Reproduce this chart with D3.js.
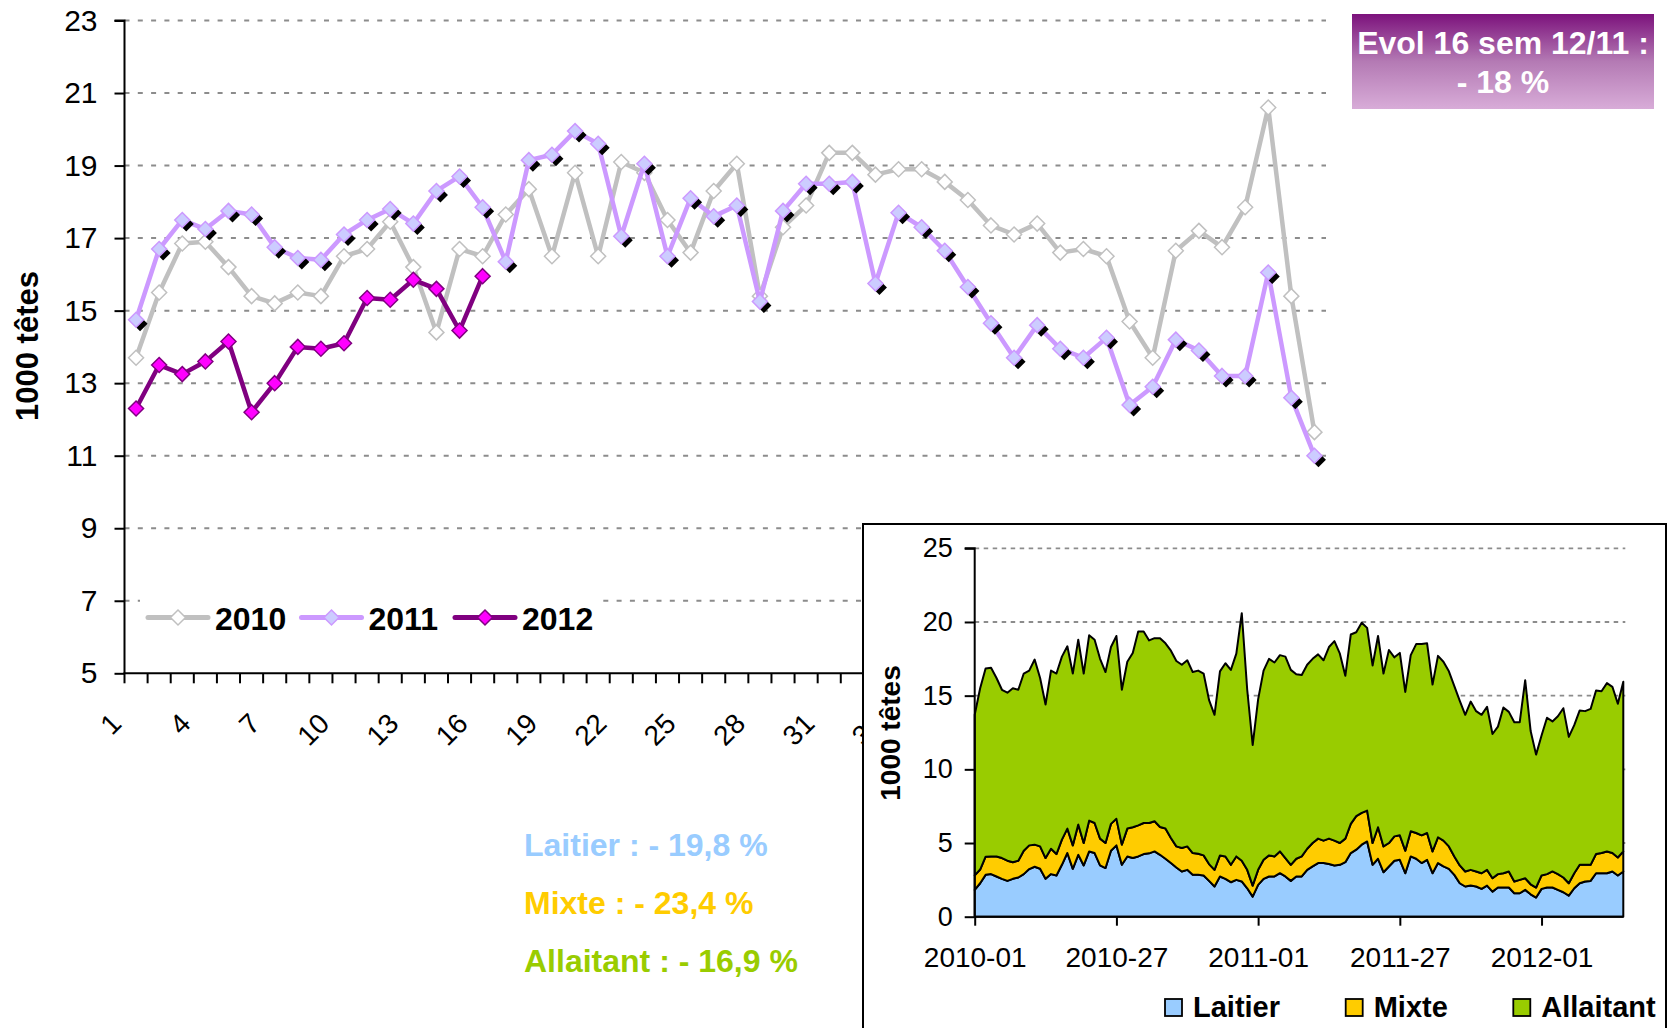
<!DOCTYPE html>
<html><head><meta charset="utf-8">
<script src="https://cdn.jsdelivr.net/npm/d3@7"></script>
<style>
body{margin:0;background:#fff}
svg{display:block}
text{font-family:"Liberation Sans",Arial,Helvetica,sans-serif}
</style>
</head><body>
<svg id="c" width="1668" height="1028"></svg>
<script>
// ---------------- DATA ----------------
const weeks = d3.range(1, 53);
const yearLabels = ["2010", "2011", "2012"];
const values2010 = [13.7,15.5,16.85,16.9,16.2,15.4,15.2,15.5,15.4,16.5,16.7,17.45,16.2,14.4,16.7,16.5,17.65,18.35,16.5,18.8,16.5,19.1,18.8,17.5,16.6,18.3,19.05,15.4,17.3,17.9,19.35,19.35,18.75,18.9,18.9,18.55,18.05,17.35,17.1,17.4,16.6,16.7,16.5,14.7,13.7,16.65,17.2,16.75,17.85,20.6,15.4,11.65];
const values2011 = [14.75,16.7,17.5,17.25,17.75,17.65,16.75,16.45,16.4,17.1,17.5,17.8,17.4,18.3,18.7,17.85,16.35,19.15,19.3,19.95,19.6,17.05,19.05,16.5,18.1,17.6,17.9,15.25,17.75,18.5,18.5,18.55,15.75,17.7,17.3,16.65,15.65,14.65,13.7,14.6,13.95,13.7,14.25,12.4,12.9,14.2,13.9,13.2,13.2,16.05,12.6,11.0];
const values2012 = [12.3,13.5,13.25,13.6,14.15,12.2,13.0,14.0,13.95,14.1,15.35,15.3,15.85,15.6,14.45,15.95];
const mainYTicks = [5,7,9,11,13,15,17,19,21,23];
const mainXTickLabels = [1,4,7,10,13,16,19,22,25,28,31,34,37,40,43,46,49,52];
const mainYTitle = "1000 têtes";

const insetYears = [2010, 2011, 2012];
const insetWeeksPerYear = [52, 52, 16];
const insetLaitier = [
1.82,2.27,2.84,2.89,2.73,2.57,2.43,2.57,2.66,2.89,3.23,3.39,3.25,2.57,2.89,2.8,3.52,4.32,3.25,4.2,3.48,4.43,4.32,3.48,3.3,4.48,4.84,3.52,4.09,3.98,4.09,4.25,4.3,4.43,4.2,3.93,3.64,3.34,3.07,3.18,2.84,2.84,2.8,2.43,2.05,2.73,2.57,2.34,2.5,2.39,1.93,1.36,
2.16,2.57,2.73,2.73,2.95,2.73,2.43,2.73,2.73,3.18,3.41,3.64,3.64,3.57,3.48,3.52,3.7,4.32,4.55,4.89,5.11,3.52,3.93,3.02,3.41,3.8,3.86,2.95,4.09,3.93,3.64,3.86,2.95,3.64,3.41,3.25,2.84,2.27,2.05,2.11,2.05,1.89,2.11,1.7,1.98,1.98,1.98,1.59,1.59,1.82,1.52,1.3,
1.89,1.98,1.98,1.82,1.66,1.43,1.93,2.27,2.39,2.43,2.95,2.95,2.95,3.07,2.8,3.07];
const insetMixte = [
0.98,0.93,1.23,1.2,1.36,1.41,1.37,1.13,1.14,1.59,1.61,1.5,1.52,1.41,1.72,1.45,1.71,1.66,1.59,2.05,1.52,2.09,2.04,1.82,1.7,1.82,1.8,1.37,1.89,2.09,2.11,2.11,2.06,2.05,1.89,2.05,1.7,1.43,1.59,1.59,1.48,1.43,1.36,1.14,1.13,1.43,1.52,1.18,1.59,1.41,1.25,0.75,
1.02,1.29,1.43,1.36,1.48,1.25,1.09,1.2,1.36,1.43,1.59,1.66,1.52,1.73,1.68,1.48,1.6,1.98,2.27,2.16,2.09,1.48,2.14,1.75,1.59,1.65,1.66,1.53,1.71,1.75,1.88,1.82,1.48,1.75,1.75,1.52,1.25,1.21,1.02,1.07,1.02,1.06,1.07,0.91,0.91,0.97,1.09,0.8,0.91,0.79,0.68,0.68,
0.91,0.91,1.09,1.07,1.0,0.84,1.02,1.25,1.13,1.09,1.3,1.37,1.48,1.25,1.22,1.36];
const insetAllaitant = [
10.9,12.3,12.78,12.81,12.11,11.42,11.4,11.8,11.6,12.02,11.86,12.56,11.43,10.42,12.09,12.25,12.42,12.37,11.66,12.55,11.5,12.58,12.44,12.2,11.6,12.0,12.41,10.51,11.32,11.83,13.15,12.99,12.39,12.42,12.81,12.57,12.71,12.58,12.44,12.63,12.28,12.43,12.34,11.13,10.52,12.49,13.11,13.23,13.76,16.8,12.22,9.54,
11.57,12.84,13.34,13.16,13.32,13.67,13.23,12.52,12.31,12.49,12.5,12.5,12.24,13.0,13.54,12.85,11.05,12.85,12.48,12.9,12.4,12.05,12.98,11.73,13.1,12.15,12.38,10.77,11.95,12.82,12.98,12.87,11.32,12.31,12.14,11.88,11.56,11.17,10.63,11.42,10.88,10.75,11.07,9.79,10.01,11.25,10.83,10.81,10.7,13.44,10.4,9.02,
9.5,10.61,10.18,10.71,11.49,9.93,10.05,10.48,10.43,10.58,11.1,10.98,11.42,11.28,10.43,11.52];
const insetKeys = ["Laitier", "Mixte", "Allaitant"];
const insetYTicks = [0,5,10,15,20,25];
const insetXTickLabels = ["2010-01","2010-27","2011-01","2011-27","2012-01"];
const evolLines = ["Evol 16 sem 12/11 :", "- 18 %"];
const typeNotes = ["Laitier : - 19,8 %", "Mixte : - 23,4 %", "Allaitant : - 16,9 %"];

// ---------------- STYLE ----------------
const FONT = '"Liberation Sans",Arial,Helvetica,sans-serif';
const seriesStyle = [
  {line:"#c0c0c0", fill:"#ffffff", stroke:"#c0c0c0", shadow:false},
  {line:"#cc99ff", fill:"#ccccff", stroke:"#cc99ff", shadow:true},
  {line:"#800080", fill:"#ff00ff", stroke:"#800080", shadow:false}
];
const insetColors = {Laitier:"#99ccff", Mixte:"#ffcc00", Allaitant:"#99cc00"};
const noteColors = ["#99ccff", "#ffcc00", "#99cc00"];

const svg = d3.select("#c");
svg.append("rect").attr("width",1668).attr("height",1028).attr("fill","#fff");

function diamond(r){ return `M0,${-r}L${r},0L0,${r}L${-r},0Z`; }

// ---------------- MAIN CHART ----------------
const M = {left:124.5, right:1326, top:20.5, bottom:673.3};
const x = d3.scaleBand().domain(weeks).range([M.left, M.right]).padding(0);
const bw = x.bandwidth();
const cx = d => x(d) + bw/2;
const y = d3.scaleLinear().domain([5,23]).range([M.bottom, M.top]);

const main = svg.append("g");
main.append("g").selectAll("line").data(mainYTicks.filter(t=>t>5)).join("line")
  .attr("x1", M.left).attr("x2", M.right)
  .attr("y1", d=>y(d)).attr("y2", d=>y(d))
  .attr("stroke","#8c8c8c").attr("stroke-width",2).attr("stroke-dasharray","5,8.3");

main.append("rect").attr("x",140).attr("y",588).attr("width",462).attr("height",58).attr("fill","#fff");

const yAxis = d3.axisLeft(y).tickValues(mainYTicks).tickSize(10).tickPadding(17).tickFormat(d3.format("d"));
const gy = main.append("g").attr("transform",`translate(${M.left},0)`).call(yAxis);
gy.select(".domain").attr("stroke","#000").attr("stroke-width",2).attr("d",`M-10,${M.top}H0V${M.bottom}`);
gy.selectAll(".tick line").attr("stroke","#000").attr("stroke-width",2);
gy.selectAll(".tick text").attr("font-size",30).attr("font-family",FONT).attr("fill","#000");

const gx = main.append("g");
gx.append("line").attr("x1",M.left-1).attr("x2",M.right).attr("y1",M.bottom).attr("y2",M.bottom)
  .attr("stroke","#000").attr("stroke-width",2);
const boundaries = weeks.map(d=>x(d)).concat([M.right]);
gx.selectAll("line.tk").data(boundaries).join("line").attr("class","tk")
  .attr("x1",d=>d).attr("x2",d=>d).attr("y1",M.bottom).attr("y2",M.bottom+10)
  .attr("stroke","#000").attr("stroke-width",2);
gx.selectAll("text").data(mainXTickLabels).join("text")
  .attr("transform", d=>`translate(${cx(d)-13},${M.bottom+52}) rotate(-45)`)
  .attr("text-anchor","end").attr("font-size",28).attr("font-family",FONT).attr("fill","#000")
  .text(d=>d);

main.append("text").attr("transform",`translate(38,346) rotate(-90)`)
  .attr("text-anchor","middle").attr("font-size",31).attr("font-weight","bold")
  .attr("font-family",FONT).text(mainYTitle);

const seriesData = [values2010, values2011, values2012];
const line = d3.line().x((v,i)=>cx(weeks[i])).y(v=>y(v));
seriesData.forEach((vals, si) => {
  const st = seriesStyle[si];
  const g = main.append("g");
  g.append("path").attr("d", line(vals)).attr("fill","none")
    .attr("stroke", st.line).attr("stroke-width",4.5).attr("stroke-linejoin","round");
  if (st.shadow) {
    g.selectAll("path.sh").data(vals).join("path").attr("class","sh")
      .attr("d", diamond(7.5))
      .attr("transform",(v,i)=>`translate(${cx(weeks[i])+4},${y(v)+4})`)
      .attr("fill","#000");
  }
  g.selectAll("path.mk").data(vals).join("path").attr("class","mk")
    .attr("d", diamond(7.5))
    .attr("transform",(v,i)=>`translate(${cx(weeks[i])},${y(v)})`)
    .attr("fill", st.fill).attr("stroke", st.stroke).attr("stroke-width",1.5);
});

const lg = main.append("g");
yearLabels.forEach((lab, i) => {
  const st = seriesStyle[i];
  const x0 = 148 + i*153.5, ly = 617.5;
  lg.append("line").attr("x1",x0).attr("x2",x0+60).attr("y1",ly).attr("y2",ly)
    .attr("stroke",st.line).attr("stroke-width",5).attr("stroke-linecap","round");
  lg.append("path").attr("d",diamond(7.5)).attr("transform",`translate(${x0+30},${ly})`)
    .attr("fill",st.fill).attr("stroke",st.stroke).attr("stroke-width",1.5);
  lg.append("text").attr("x",x0+67).attr("y",629.5).attr("font-size",32).attr("font-weight","bold")
    .attr("font-family",FONT).attr("fill","#000").text(lab);
});

const defs = svg.append("defs");
const grad = defs.append("linearGradient").attr("id","evolGrad").attr("x1",0).attr("y1",0).attr("x2",0).attr("y2",1);
grad.append("stop").attr("offset","0%").attr("stop-color","#7c127c");
grad.append("stop").attr("offset","50%").attr("stop-color","#b47ab4");
grad.append("stop").attr("offset","100%").attr("stop-color","#d8acd8");
svg.append("rect").attr("x",1352).attr("y",14).attr("width",302).attr("height",95).attr("fill","url(#evolGrad)");
evolLines.forEach((t,i)=>{
  svg.append("text").attr("x",1503).attr("y",54+i*38.5).attr("text-anchor","middle")
    .attr("font-size",32).attr("font-weight","bold").attr("font-family",FONT).attr("fill","#fff").text(t);
});

typeNotes.forEach((t,i)=>{
  svg.append("text").attr("x",524).attr("y",856+i*58).attr("font-size",32).attr("font-weight","bold")
    .attr("font-family",FONT).attr("fill",noteColors[i]).text(t);
});

// ---------------- INSET ----------------
svg.append("rect").attr("x",863).attr("y",524).attr("width",803).attr("height",600)
  .attr("fill","#fff").attr("stroke","#000").attr("stroke-width",2);

const insetWeeks = [];
insetYears.forEach((yr,k)=>{ for(let w=1; w<=insetWeeksPerYear[k]; w++) insetWeeks.push(`${yr}-${String(w).padStart(2,"0")}`); });
const rows = insetWeeks.map((wk,i)=>({wk, Laitier:insetLaitier[i], Mixte:insetMixte[i], Allaitant:insetAllaitant[i]}));

const I = {left:974.7, right:1623.3, top:548.3, bottom:916.7};
const ix = d3.scalePoint().domain(insetWeeks).range([I.left, I.right]).padding(0);
const iy = d3.scaleLinear().domain([0,25]).range([I.bottom, I.top]);
const inset = svg.append("g");

inset.append("g").selectAll("line").data(insetYTicks.filter(t=>t>0)).join("line")
  .attr("x1", I.left).attr("x2", I.right+2)
  .attr("y1", d=>iy(d)).attr("y2", d=>iy(d))
  .attr("stroke","#8c8c8c").attr("stroke-width",1.8).attr("stroke-dasharray","4.5,4.5");

const stack = d3.stack().keys(insetKeys)(rows);
const area = d3.area().x(d=>ix(d.data.wk)).y0(d=>iy(d[0])).y1(d=>iy(d[1]));
inset.append("g").selectAll("path").data(stack).join("path")
  .attr("d", area).attr("fill", s=>insetColors[s.key])
  .attr("stroke","#000").attr("stroke-width",2).attr("stroke-linejoin","round");

const iyAxis = d3.axisLeft(iy).tickValues(insetYTicks).tickSize(10).tickPadding(12);
const giy = inset.append("g").attr("transform",`translate(${I.left},0)`).call(iyAxis);
giy.select(".domain").attr("stroke","#000").attr("stroke-width",2).attr("d",`M-10,${I.top}H0V${I.bottom}`);
giy.selectAll(".tick line").attr("stroke","#000").attr("stroke-width",2);
giy.selectAll(".tick text").attr("font-size",27).attr("font-family",FONT).attr("fill","#000");

const ixAxis = d3.axisBottom(ix).tickValues(insetXTickLabels).tickSize(9).tickPadding(21);
const gix = inset.append("g").attr("transform",`translate(0,${I.bottom})`).call(ixAxis);
gix.select(".domain").attr("stroke","#000").attr("stroke-width",2).attr("d",`M${I.left},0H${I.right}`);
gix.selectAll(".tick line").attr("stroke","#000").attr("stroke-width",2);
gix.selectAll(".tick text").attr("font-size",28).attr("font-family",FONT).attr("fill","#000");

inset.append("text").attr("transform",`translate(900,733) rotate(-90)`)
  .attr("text-anchor","middle").attr("font-size",28).attr("font-weight","bold")
  .attr("font-family",FONT).text(mainYTitle);

const ilegX = [1165, 1345.7, 1513.3];
insetKeys.forEach((k,i)=>{
  inset.append("rect").attr("x",ilegX[i]).attr("y",999).attr("width",17).attr("height",17)
    .attr("fill",insetColors[k]).attr("stroke","#000").attr("stroke-width",1.8);
  inset.append("text").attr("x",ilegX[i]+28).attr("y",1016.5).attr("font-size",29).attr("font-weight","bold")
    .attr("font-family",FONT).attr("fill","#000").text(k);
});
</script>
</body></html>
